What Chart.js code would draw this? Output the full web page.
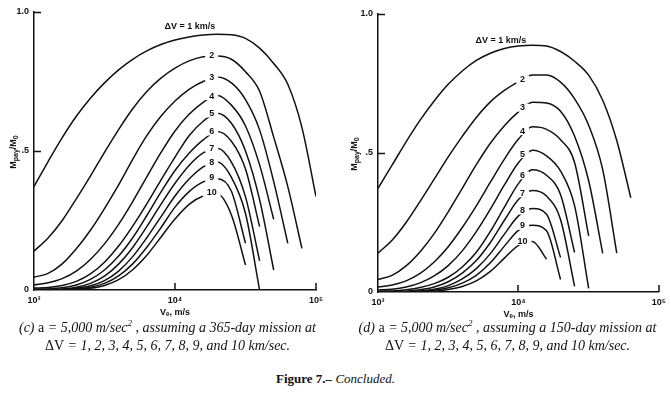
<!DOCTYPE html>
<html>
<head>
<meta charset="utf-8">
<script src="https://cdn.jsdelivr.net/npm/chart.js@4.4.1/dist/chart.umd.min.js"></script>
<style>
  body { margin: 0; background: #fff; width: 671px; height: 397px; overflow: hidden; position: relative; font-family: "Liberation Sans", Arial, sans-serif; color: #111; }
  canvas { position: absolute; }
  .ytitle { position: absolute; width: 70px; height: 12px; text-align: center; font: bold 9px "Liberation Sans", Arial, sans-serif; transform: rotate(-90deg); white-space: nowrap; }
  .ytitle sub { font-size: 7px; vertical-align: -2px; }
  .cap { position: absolute; text-align: center; font: italic 14px "Liberation Serif", "Times New Roman", serif; line-height: 18px; white-space: nowrap; }
  .up { font-style: normal; }
  .fig { position: absolute; left: 0; width: 671px; top: 371px; text-align: center; font: 13px "Liberation Serif", "Times New Roman", serif; }
</style>
</head>
<body>
<canvas id="c365" width="336" height="320" style="left:0;top:0"></canvas>
<canvas id="c150" width="327" height="320" style="left:344px;top:2px"></canvas>

<div class="ytitle" style="left:-21px;top:146px">M<sub>pay</sub>/M<sub>0</sub></div>
<div class="ytitle" style="left:320px;top:148px">M<sub>pay</sub>/M<sub>0</sub></div>

<div class="cap" style="left:0;width:335px;top:314px">(c) <span class="up">a</span> = 5,000 m/sec<sup style="font-size:9px">2</sup> , assuming a 365-day mission at<br><span class="up">ΔV</span> = 1, 2, 3, 4, 5, 6, 7, 8, 9, and 10 km/sec.</div>
<div class="cap" style="left:340px;width:335px;top:314px">(d) <span class="up">a</span> = 5,000 m/sec<sup style="font-size:9px">2</sup> , assuming a 150-day mission at<br><span class="up">ΔV</span> = 1, 2, 3, 4, 5, 6, 7, 8, 9, and 10 km/sec.</div>
<div class="fig"><b>Figure 7.–</b> <i>Concluded.</i></div>

<script>
// exhaust velocity grid, m/s (0.1-decade steps)
const veGrid = [1000, 1259, 1585, 1995, 2512, 3162, 3981, 5012, 6310, 7943,
  10000, 12589, 15849, 19953, 25119, 31623, 39811, 50119, 63096, 79433, 100000];

const dvNames = ['1', '2', '3', '4', '5', '6', '7', '8', '9', '10'];

// (c) 365-day mission, Mpay/M0 per delta-V
const m365_1 = [.372, .462, .548, .625, .69, .745, .792, .83, .86, .883, .899, .91, .917, .92, .918, .905, .87, .815, .74, .585, .336];
const m365_2 = [.14, .187, .25, .328, .41, .495, .577, .652, .714, .762, .798, .824, .839, .842, .83, .785, .715, .55, .372, .15];
const m365_3 = [.046, .06, .094, .148, .215, .293, .378, .47, .555, .625, .68, .722, .75, .766, .745, .685, .576, .39, .168];
const m365_4 = [.018, .026, .041, .068, .11, .166, .236, .318, .407, .494, .572, .632, .675, .70, .665, .59, .45, .254];
const m365_5 = [.007, .009, .016, .031, .058, .10, .158, .23, .31, .395, .478, .555, .607, .636, .60, .50, .325, .072];
const m365_6 = [.003, .004, .008, .018, .038, .072, .122, .188, .268, .352, .43, .492, .54, .57, .535, .435, .228];
const m365_7 = [.001, .002, .004, .01, .024, .05, .093, .153, .228, .308, .384, .448, .493, .51, .46, .335, .105];
const m365_8 = [0, .001, .002, .006, .015, .034, .068, .12, .188, .263, .338, .399, .443, .46, .405, .275, 0];
const m365_9 = [0, 0, .001, .004, .01, .024, .051, .094, .154, .224, .298, .354, .389, .40, .355, .168];
const m365_10 = [0, 0, .001, .002, .006, .016, .037, .073, .125, .19, .255, .308, .338, .345, .27, .09];

// (d) 150-day mission
const m150_1 = [.373, .456, .54, .618, .687, .747, .795, .833, .859, .876, .885, .888, .885, .865, .83, .78, .69, .545, .339];
const m150_2 = [.14, .186, .25, .326, .406, .486, .56, .628, .684, .725, .757, .781, .781, .755, .695, .60, .44, .14];
const m150_3 = [.045, .06, .094, .145, .21, .288, .373, .458, .535, .598, .648, .683, .68, .65, .56, .40, .139];
const m150_4 = [.018, .025, .04, .067, .108, .163, .232, .31, .395, .478, .55, .594, .585, .548, .465, .202];
const m150_5 = [.007, .01, .018, .033, .058, .095, .148, .217, .298, .385, .465, .51, .49, .435, .31, .013];
const m150_6 = [.003, .004, .008, .016, .03, .053, .09, .143, .218, .305, .39, .44, .42, .35, .142];
const m150_7 = [.001, .002, .003, .008, .018, .037, .068, .113, .178, .258, .333, .365, .345, .26, .02];
const m150_8 = [0, 0, .001, .004, .01, .023, .047, .084, .138, .208, .274, .30, .28, .124];
const m150_9 = [0, 0, .001, .002, .006, .015, .032, .06, .105, .165, .222, .24, .22, .045];
const m150_10 = [0, 0, 0, .001, .003, .009, .02, .04, .074, .122, .168, .182, .118];

// where the curve numbers sit
const tag365Ve = 18200;
const tag365Pay = [.844, .766, .697, .635, .57, .51, .46, .403, .35];
const top365 = { ve: 12770, pay: .946 };
const tag150Ve = 10700;
const tag150Pay = [.765, .663, .579, .496, .42, .355, .293, .238, .183];
const top150 = { ve: 7510, pay: .904 };

const ink = '#111';
const tickFont = { family: '"Liberation Sans", Arial, sans-serif', size: 9, weight: 'bold' };
const powLabels = { 1000: '10³', 10000: '10⁴', 100000: '10⁵' };

function curvePlugin(tagVe, tagPay, top) {
  return {
    id: 'curveTags',
    afterDatasetsDraw(chart) {
      const { ctx, chartArea, scales: { x, y } } = chart;
      ctx.save();
      ctx.font = 'bold 9px "Liberation Sans", Arial, sans-serif';
      ctx.textAlign = 'center';
      ctx.textBaseline = 'middle';
      // numbers 2..10 break the lines
      tagPay.forEach((p, i) => {
        const t = dvNames[i + 1];
        const px = x.getPixelForValue(tagVe);
        const py = y.getPixelForValue(p);
        const w = ctx.measureText(t).width + 8;
        ctx.fillStyle = '#fff';
        ctx.fillRect(px - w / 2, py - 4, w, 8);
        ctx.fillStyle = ink;
        ctx.fillText(t, px, py);
      });
      ctx.fillText('ΔV = 1 km/s', x.getPixelForValue(top.ve), y.getPixelForValue(top.pay));

      // inward tick marks
      ctx.strokeStyle = ink;
      ctx.lineWidth = 1.5;
      ctx.beginPath();
      [0.5, 1].forEach(v => {
        const py = Math.round(y.getPixelForValue(v)) + 0.5;
        ctx.moveTo(chartArea.left, py);
        ctx.lineTo(chartArea.left + 7, py);
      });
      [10000, 100000].forEach(v => {
        const px = Math.round(x.getPixelForValue(v));
        ctx.moveTo(px, chartArea.bottom);
        ctx.lineTo(px, chartArea.bottom - 7);
      });
      ctx.stroke();
      ctx.restore();
    }
  };
}

function makeChart(id, series, tagVe, tagPay, top, padRight) {
  const ctx = document.getElementById(id).getContext('2d');
  return new Chart(ctx, {
    type: 'line',
    data: {
      datasets: series.map((vals, i) => ({
        label: 'ΔV = ' + dvNames[i] + ' km/s',
        data: vals.map((p, k) => ({ x: veGrid[k], y: p })),
        borderColor: ink,
        borderWidth: 1.5,
        pointRadius: 0,
        cubicInterpolationMode: 'monotone',
        fill: false
      }))
    },
    options: {
      responsive: false,
      animation: false,
      layout: { padding: { top: 12, right: padRight, left: 0, bottom: 0 } },
      plugins: { legend: { display: false }, tooltip: { enabled: false } },
      scales: {
        x: {
          type: 'logarithmic',
          min: 1000,
          max: 100000,
          afterBuildTicks: s => { s.ticks = [1000, 10000, 100000].map(v => ({ value: v })); },
          afterFit: s => { s.height = 30; },
          grid: { display: false, drawTicks: false },
          border: { display: true, color: ink, width: 1.5 },
          ticks: { padding: 5, color: ink, font: tickFont, maxRotation: 0, autoSkip: false,
                   callback: v => powLabels[v] || '' },
          title: { display: true, text: 'Vₑ, m/s', color: ink, font: tickFont, padding: { top: 1, bottom: 2 } }
        },
        y: {
          min: 0,
          max: 1,
          afterBuildTicks: s => { s.ticks = [0, 0.5, 1].map(v => ({ value: v })); },
          afterFit: s => { s.width = 34; },
          grid: { display: false, drawTicks: false },
          border: { display: true, color: ink, width: 1.5 },
          ticks: { padding: 5, color: ink, font: tickFont,
                   callback: v => v === 0 ? '0' : (v === 0.5 ? '.5' : '1.0') }
        }
      }
    },
    plugins: [curvePlugin(tagVe, tagPay, top)]
  });
}

makeChart('c365',
  [m365_1, m365_2, m365_3, m365_4, m365_5, m365_6, m365_7, m365_8, m365_9, m365_10],
  tag365Ve, tag365Pay, top365, 20);
makeChart('c150',
  [m150_1, m150_2, m150_3, m150_4, m150_5, m150_6, m150_7, m150_8, m150_9, m150_10],
  tag150Ve, tag150Pay, top150, 11);
</script>
</body>
</html>
